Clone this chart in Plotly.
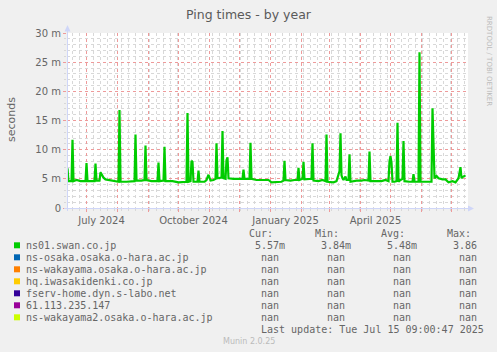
import plotly.graph_objects as go
import pandas as pd

# ---------------- data ----------------
DATES = [
    "2024-06-12", "2024-06-13", "2024-06-16", "2024-06-17", "2024-06-18", "2024-06-21",
    "2024-06-25", "2024-06-30", "2024-07-01", "2024-07-02", "2024-07-06", "2024-07-09",
    "2024-07-10", "2024-07-11", "2024-07-14", "2024-07-15", "2024-07-16", "2024-07-18",
    "2024-07-20", "2024-07-23", "2024-07-27", "2024-08-02", "2024-08-03", "2024-08-04",
    "2024-08-10", "2024-08-14", "2024-08-18", "2024-08-19", "2024-08-20", "2024-08-25",
    "2024-08-28", "2024-08-29", "2024-08-30", "2024-09-04", "2024-09-10", "2024-09-11",
    "2024-09-12", "2024-09-16", "2024-09-17", "2024-09-18", "2024-09-25", "2024-10-01",
    "2024-10-06", "2024-10-09", "2024-10-10", "2024-10-11", "2024-10-13", "2024-10-14",
    "2024-10-15", "2024-10-16", "2024-10-20", "2024-10-21", "2024-10-22", "2024-10-27",
    "2024-10-29", "2024-10-31", "2024-11-02", "2024-11-05", "2024-11-07", "2024-11-08",
    "2024-11-09", "2024-11-12", "2024-11-13", "2024-11-14", "2024-11-15", "2024-11-17",
    "2024-11-18", "2024-11-19", "2024-11-20", "2024-11-25", "2024-11-30", "2024-12-04",
    "2024-12-05", "2024-12-06", "2024-12-11", "2024-12-12", "2024-12-13", "2024-12-18",
    "2024-12-24", "2024-12-30", "2025-01-02", "2025-01-09", "2025-01-12", "2025-01-14",
    "2025-01-15", "2025-01-16", "2025-01-21", "2025-01-25", "2025-01-28", "2025-01-29",
    "2025-01-30", "2025-02-02", "2025-02-03", "2025-02-04", "2025-02-08", "2025-02-11",
    "2025-02-12", "2025-02-13", "2025-02-18", "2025-02-22", "2025-02-25", "2025-02-26",
    "2025-02-27", "2025-03-05", "2025-03-08", "2025-03-10", "2025-03-11", "2025-03-12",
    "2025-03-13", "2025-03-14", "2025-03-15", "2025-03-17", "2025-03-18", "2025-03-20",
    "2025-03-21", "2025-03-22", "2025-03-28", "2025-04-02", "2025-04-05", "2025-04-09",
    "2025-04-10", "2025-04-11", "2025-04-17", "2025-04-22", "2025-04-26", "2025-04-29",
    "2025-04-30", "2025-05-01", "2025-05-02", "2025-05-03", "2025-05-05", "2025-05-07",
    "2025-05-08", "2025-05-09", "2025-05-11", "2025-05-13", "2025-05-14", "2025-05-15",
    "2025-05-20", "2025-05-23", "2025-05-24", "2025-05-25", "2025-05-29", "2025-05-30",
    "2025-05-31", "2025-06-05", "2025-06-08", "2025-06-11", "2025-06-12", "2025-06-14",
    "2025-06-16", "2025-06-18", "2025-06-22", "2025-06-25", "2025-06-28", "2025-07-02",
    "2025-07-05", "2025-07-08", "2025-07-10", "2025-07-11", "2025-07-12", "2025-07-14",
    "2025-07-15",
]
PING_MS = [
    6.8, 4.6, 4.6, 11.7, 4.6, 4.8,
    4.6, 4.6, 7.7, 4.6, 4.6, 4.6,
    7.6, 4.7, 4.7, 6.1, 5.8, 5.2,
    4.9, 4.8, 4.6, 4.5, 16.8, 4.5,
    4.5, 4.5, 4.6, 12.6, 4.7, 4.7,
    4.8, 10.7, 4.8, 4.6, 4.6, 7.8,
    4.6, 4.7, 10.5, 4.6, 4.6, 4.4,
    4.5, 4.5, 16.3, 4.5, 4.6, 8.1,
    7.9, 4.5, 4.5, 6.4, 4.5, 4.5,
    4.8, 5.7, 4.7, 4.8, 5.0, 11.1,
    5.1, 5.2, 5.2, 13.2, 5.1, 5.0,
    8.2, 8.7, 5.1, 5.0, 5.0, 5.0,
    6.6, 5.0, 5.0, 11.2, 5.0, 4.8,
    4.8, 4.8, 4.4, 4.4, 4.5, 4.7,
    8.1, 4.8, 4.7, 4.8, 4.8, 6.9,
    4.8, 5.0, 7.9, 4.9, 5.0, 5.0,
    11.1, 4.7, 4.6, 4.8, 4.6, 12.6,
    4.5, 4.4, 4.6, 6.1, 6.3, 12.8,
    5.6, 5.1, 4.8, 5.4, 4.8, 4.8,
    9.2, 4.5, 4.7, 4.7, 4.8, 4.7,
    9.7, 4.6, 4.6, 4.6, 4.8, 4.6,
    8.0, 8.9, 7.8, 4.5, 4.5, 4.6,
    14.6, 4.5, 4.8, 5.0, 11.5, 4.6,
    4.5, 4.5, 5.8, 4.5, 4.5, 26.7,
    4.5, 4.5, 4.4, 4.5, 17.1, 5.1,
    5.5, 5.1, 4.9, 4.9, 4.4, 4.6,
    4.4, 5.1, 7.0, 5.1, 5.3, 5.5,
    5.6,
]

X_RANGE = ["2024-06-11 12:00", "2025-07-17 12:00"]
X_TICK_LABELS = {"2024-07-01": "July 2024", "2024-10-01": "October 2024",
                 "2025-01-01": "January 2025", "2025-04-01": "April 2025"}
Y_TICKS = [0, 5, 10, 15, 20, 25, 30]
Y_TICK_TEXT = ["0", "5 m", "10 m", "15 m", "20 m", "25 m", "30 m"]

HOSTS = ["ns01.swan.co.jp", "ns-osaka.osaka.o-hara.ac.jp", "ns-wakayama.osaka.o-hara.ac.jp",
         "hq.iwasakidenki.co.jp", "fserv-home.dyn.s-labo.net", "61.113.235.147",
         "ns-wakayama2.osaka.o-hara.ac.jp"]
HOST_COLORS = ["#00CC00", "#0066B3", "#FF8000", "#FFCC00", "#330099", "#990099", "#CCFF00"]
CUR = ["5.57m", "nan", "nan", "nan", "nan", "nan", "nan"]
MIN = ["3.84m", "nan", "nan", "nan", "nan", "nan", "nan"]
AVG = ["5.48m", "nan", "nan", "nan", "nan", "nan", "nan"]
MAX = ["3.86", "nan", "nan", "nan", "nan", "nan", "nan"]
COL_HEADERS = ["Cur:", "Min:", "Avg:", "Max:"]
TITLE = "Ping times - by year"
Y_TITLE = "seconds"
LAST_UPDATE = "Last update: Tue Jul 15 09:00:47 2025"
WATERMARK = "RRDTOOL / TOBI OETIKER"
FOOTER = "Munin 2.0.25"

# ---------------- layout geometry ----------------
W, H = 497, 352
L, R, T, B = 67, 29, 33, 144
PW, PH = W - L - R, H - T - B
BOTTOM = H - B


def px(x):
    return (x - L) / PW


def py(y):
    return (BOTTOM - y) / PH


FONT = "DejaVu Sans"
MONO = "DejaVu Sans Mono"
TXT = "#666666"
MGRID = "#EE9A9A"
GRID = "#D8D8D8"
AXIS = "#CFD6F8"

fig = go.Figure()
fig.add_trace(go.Scatter(x=pd.to_datetime(DATES), y=PING_MS, mode="lines",
                         line=dict(color=HOST_COLORS[0], width=2.2),
                         hoverinfo="skip", showlegend=False))

month_starts = pd.date_range("2024-07-01", "2025-07-01", freq="MS")
tickvals = list(month_starts)
ticktext = [X_TICK_LABELS.get(d.strftime("%Y-%m-%d"), "") for d in month_starts]

fig.update_layout(
    width=W, height=H,
    margin=dict(l=L, r=R, t=T, b=B, pad=0),
    paper_bgcolor="#F0F0F0", plot_bgcolor="#FFFFFF",
    showlegend=False,
    xaxis=dict(
        type="date", range=X_RANGE, tickmode="array", tickvals=tickvals, ticktext=ticktext,
        ticklabelshift=15, ticks="outside", ticklen=3, tickcolor=MGRID, tickwidth=1,
        showgrid=True, gridcolor=MGRID, griddash="dot", gridwidth=1,
        showline=False, zeroline=False,
        tickfont=dict(family=FONT, size=10, color=TXT),
        minor=dict(tickmode="linear", tick0="2024-07-08", dtick=7 * 86400000,
                   showgrid=True, gridcolor=GRID, griddash="dot", gridwidth=1,
                   ticks="outside", ticklen=2, tickcolor=GRID),
        fixedrange=True,
    ),
    yaxis=dict(
        range=[0, 30], tickmode="array", tickvals=Y_TICKS, ticktext=Y_TICK_TEXT,
        ticks="outside", ticklen=3, tickcolor=MGRID,
        showgrid=True, gridcolor=MGRID, griddash="dot", gridwidth=1,
        showline=False, zeroline=False,
        tickfont=dict(family=FONT, size=10, color=TXT),
        minor=dict(tickmode="linear", tick0=0, dtick=1, showgrid=True, gridcolor=GRID,
                   griddash="dot", gridwidth=1, ticks="outside", ticklen=2, tickcolor=GRID),
        fixedrange=True,
    ),
)

annotations = []


def add_text(x, y, text, size=10, family=FONT, color=TXT, xanchor="left", angle=0):
    annotations.append(dict(x=px(x), y=py(y), xref="paper", yref="paper", text=text,
                            showarrow=False, xanchor=xanchor, yanchor="middle",
                            textangle=angle, borderpad=0, borderwidth=0,
                            font=dict(family=family, size=size, color=color)))


add_text(248.5, 14, TITLE, size=12.5, xanchor="center", color="#5a5a5a")
add_text(11, 120, Y_TITLE, size=11, xanchor="center", angle=-90)
add_text(489, 61, WATERMARK, size=7, xanchor="center", angle=90, color="#BBBBBB")
add_text(249, 341, FOOTER, size=8, xanchor="center", color="#BBBBBB")

ORIGIN, ADV = 25.8, 6.02
ROW0, PITCH = 245.3, 12.0
HEADER_IDX = [37, 48, 59, 70]
COL_END = [43, 54, 65, 76]

for c, h in enumerate(COL_HEADERS):
    add_text(ORIGIN + HEADER_IDX[c] * ADV, ROW0 - PITCH, h, family=MONO)

shapes = []
for i, host in enumerate(HOSTS):
    yc = ROW0 + i * PITCH
    add_text(ORIGIN, yc, host, family=MONO)
    shapes.append(dict(type="rect", xref="paper", yref="paper",
                       x0=px(14), x1=px(20), y0=py(yc - 3), y1=py(yc + 3),
                       fillcolor=HOST_COLORS[i], line=dict(width=0)))
    for c, col in enumerate([CUR, MIN, AVG, MAX]):
        s = col[i]
        end = COL_END[c] if (s[-1].isalpha() and s != "nan") else COL_END[c] - 1
        add_text(ORIGIN + (end - len(s)) * ADV, yc, s, family=MONO)

add_text(ORIGIN + 39 * ADV, ROW0 + 7 * PITCH, LAST_UPDATE, family=MONO)

# axis lines with arrows (rrdtool style)
shapes.append(dict(type="line", xref="paper", yref="paper",
                   x0=px(67.5), x1=px(67.5), y0=py(211), y1=py(30),
                   line=dict(color=AXIS, width=1)))
shapes.append(dict(type="line", xref="paper", yref="paper",
                   x0=px(64), x1=px(469), y0=py(208.5), y1=py(208.5),
                   line=dict(color=AXIS, width=1)))
shapes.append(dict(type="path", xref="paper", yref="paper",
                   path=f"M {px(64.5)} {py(31.5)} L {px(67.5)} {py(25)} L {px(70.5)} {py(31.5)} Z",
                   fillcolor=AXIS, line=dict(width=0)))
shapes.append(dict(type="path", xref="paper", yref="paper",
                   path=f"M {px(468)} {py(205.5)} L {px(474)} {py(208.5)} L {px(468)} {py(211.5)} Z",
                   fillcolor=AXIS, line=dict(width=0)))

fig.update_layout(annotations=annotations, shapes=shapes)
fig.write_html("out.html", config=dict(displayModeBar=False))
